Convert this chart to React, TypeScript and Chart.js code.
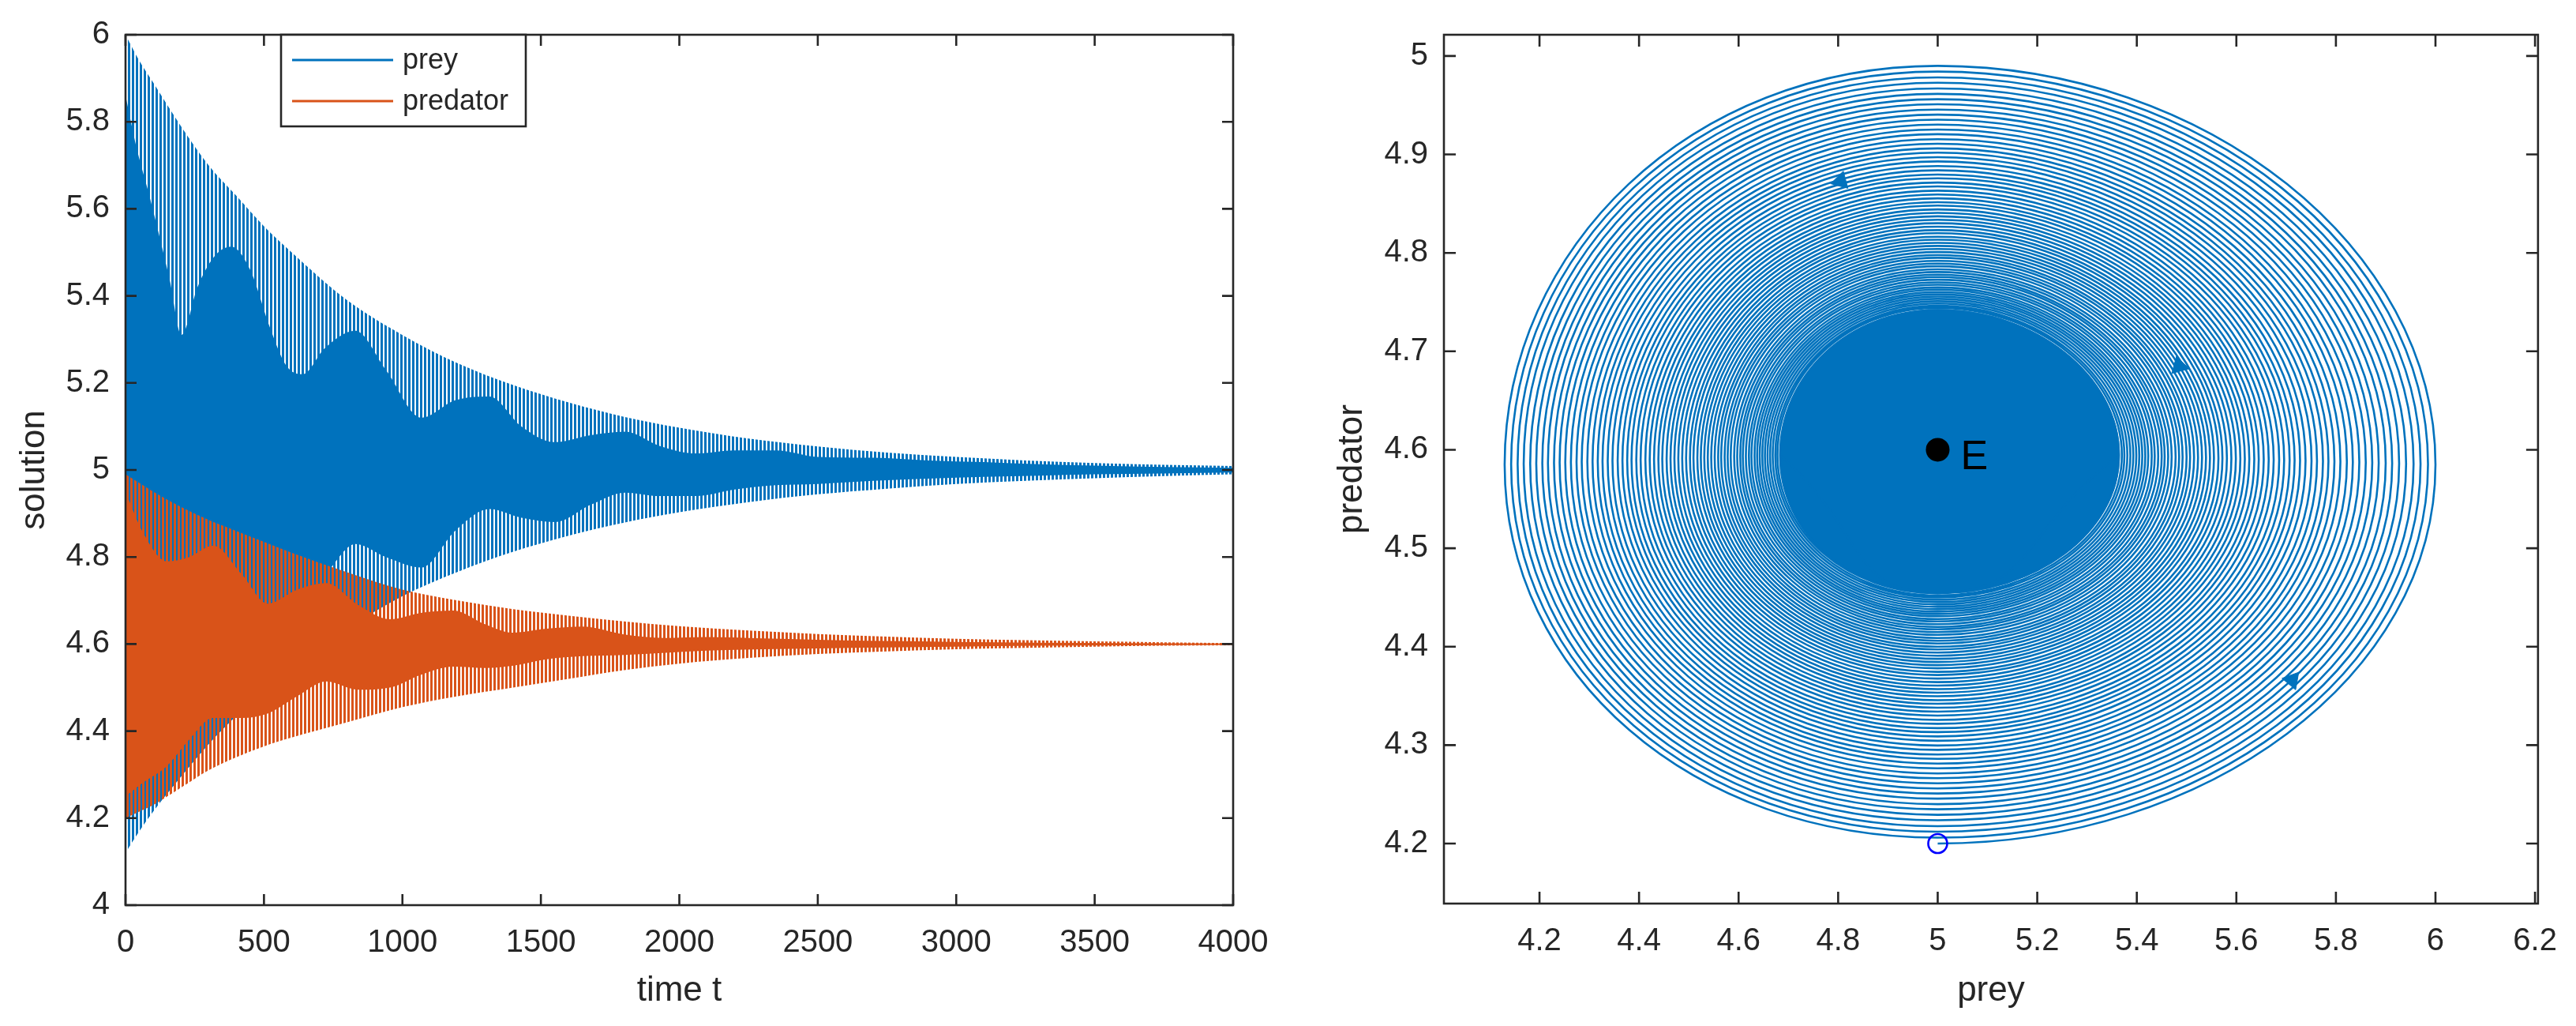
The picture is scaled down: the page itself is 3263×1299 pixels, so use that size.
import React, { useEffect, useRef } from 'react';
import { Chart, registerables } from 'chart.js';

Chart.register(...registerables);

const FONT = '"Liberation Sans", Arial, Helvetica, sans-serif';
const TEXT = '#262626';
const BLUE = '#0072BD';
const ORANGE = '#D95319';

// ---------- left panel: time series envelopes ----------
const outerT = [0, 50, 100, 200, 300, 400, 500, 600, 800, 1000, 1200, 1400, 1600, 1800, 2000, 2250, 2500, 2750, 3000, 3250, 3500, 3750, 4000];
const preyMax = [6.0, 5.94, 5.89, 5.79, 5.7, 5.63, 5.56, 5.5, 5.39, 5.31, 5.245, 5.195, 5.155, 5.122, 5.097, 5.072, 5.054, 5.04, 5.03, 5.022, 5.016, 5.012, 5.009];
const preyMin = [4.12, 4.17, 4.215, 4.295, 4.37, 4.435, 4.495, 4.545, 4.635, 4.71, 4.766, 4.812, 4.849, 4.879, 4.903, 4.926, 4.944, 4.957, 4.968, 4.975, 4.981, 4.986, 4.99];
const predMax = [4.99, 4.97, 4.95, 4.915, 4.885, 4.86, 4.835, 4.81, 4.765, 4.725, 4.7, 4.68, 4.665, 4.652, 4.641, 4.631, 4.623, 4.617, 4.612, 4.609, 4.606, 4.604, 4.602];
const predMin = [4.2, 4.215, 4.23, 4.27, 4.31, 4.34, 4.365, 4.385, 4.42, 4.455, 4.48, 4.5, 4.52, 4.54, 4.555, 4.568, 4.577, 4.583, 4.588, 4.591, 4.594, 4.596, 4.597];

const preyInnerT = [0, 40, 86, 160, 202, 260, 320, 382, 450, 520, 580, 640, 720, 830, 940, 1069, 1190, 1314, 1430, 1551, 1680, 1805, 1930, 2060, 2200, 2350, 2500, 2700, 2900, 3100, 3300, 3500, 3750, 4000];
const preyInnerHi = [5.86, 5.74, 5.63, 5.435, 5.31, 5.42, 5.49, 5.513, 5.46, 5.33, 5.24, 5.22, 5.28, 5.32, 5.23, 5.12, 5.16, 5.169, 5.1, 5.064, 5.08, 5.088, 5.055, 5.038, 5.045, 5.045, 5.03, 5.028, 5.022, 5.018, 5.013, 5.01, 5.007, 5.005];
const preyInnerLo = [4.4, 4.42, 4.45, 4.5, 4.53, 4.56, 4.58, 4.6, 4.64, 4.68, 4.7, 4.72, 4.76, 4.83, 4.8, 4.776, 4.86, 4.91, 4.89, 4.88, 4.92, 4.948, 4.94, 4.94, 4.955, 4.965, 4.968, 4.975, 4.98, 4.984, 4.987, 4.99, 4.992, 4.994];

const predInnerT = [0, 60, 150, 230, 316, 420, 513, 620, 725, 840, 955, 1070, 1183, 1300, 1397, 1520, 1650, 1800, 1950, 2100, 2300, 2500, 2750, 3000, 3300, 3600, 4000];
const predInnerHi = [4.95, 4.86, 4.79, 4.8, 4.826, 4.76, 4.693, 4.725, 4.74, 4.69, 4.657, 4.672, 4.677, 4.645, 4.626, 4.635, 4.64, 4.622, 4.614, 4.616, 4.613, 4.61, 4.607, 4.605, 4.603, 4.602, 4.601];
const predInnerLo = [4.25, 4.28, 4.32, 4.38, 4.43, 4.43, 4.44, 4.48, 4.514, 4.495, 4.5, 4.53, 4.548, 4.545, 4.55, 4.565, 4.572, 4.575, 4.58, 4.585, 4.588, 4.59, 4.592, 4.594, 4.596, 4.597, 4.598];

const timeTicks = [0, 500, 1000, 1500, 2000, 2500, 3000, 3500, 4000];
const solutionTicks = [4, 4.2, 4.4, 4.6, 4.8, 5, 5.2, 5.4, 5.6, 5.8, 6];
const legendNames = ['prey', 'predator'];
const legendColors = [BLUE, ORANGE];

// ---------- right panel: phase portrait ----------
const preyTicks = [4.2, 4.4, 4.6, 4.8, 5, 5.2, 5.4, 5.6, 5.8, 6, 6.2];
const predatorTicks = [4.2, 4.3, 4.4, 4.5, 4.6, 4.7, 4.8, 4.9, 5];
const outerRing = { right: 6.0, top: 4.99, left: 4.13, bottom: 4.2 };
const widestY = 4.585;
const ringScale = [
  1.0, 0.985, 0.97, 0.956, 0.941, 0.927, 0.913, 0.9, 0.886, 0.873,
  0.86, 0.847, 0.834, 0.822, 0.809, 0.797, 0.785, 0.774, 0.762, 0.751,
  0.739, 0.728, 0.717, 0.707, 0.696, 0.686, 0.675, 0.665, 0.655, 0.645,
  0.636, 0.626, 0.617, 0.608, 0.599, 0.59, 0.581, 0.572, 0.564, 0.555,
  0.547, 0.539, 0.531, 0.523, 0.515, 0.507, 0.5, 0.492, 0.485, 0.478,
  0.47, 0.463, 0.456, 0.45, 0.443, 0.436, 0.43, 0.423, 0.417, 0.411,
  0.405, 0.399, 0.393, 0.387, 0.381, 0.375, 0.37, 0.364,
];
const coreScale = 0.364;
const equilibrium = { x: 5, y: 4.6 };
const startPoint = { x: 5, y: 4.2 };
const arrowX = [4.805, 5.485, 5.712];
const arrowY = [4.873, 4.685, 4.366];
const arrowAngle = [255, -15, 40];

// ---------- helpers ----------
const pts = (t: number[], v: number[]) => t.map((x, i) => ({ x, y: v[i] }));

function ringPts(s: number) {
  const e = equilibrium;
  return {
    bottom: { x: e.x, y: e.y - (e.y - outerRing.bottom) * s },
    right: { x: e.x + (outerRing.right - e.x) * s, y: e.y + (widestY - e.y) * s },
    top: { x: e.x, y: e.y + (outerRing.top - e.y) * s },
    left: { x: e.x - (e.x - outerRing.left) * s, y: e.y + (widestY - e.y) * s },
  };
}

// the first point is a hidden lead-in (outer ring's left extreme) so the curve leaves the start point smoothly
const spiral: { x: number; y: number }[] = [ringPts(ringScale[0]).left];
ringScale.forEach((s) => {
  const r = ringPts(s);
  spiral.push(r.bottom, r.right, r.top, r.left);
});
const coreR = ringPts(coreScale);
const core = [coreR.left, coreR.bottom, coreR.right, coreR.top, coreR.left, coreR.bottom, coreR.right];

function stripe(ctx: CanvasRenderingContext2D, color: string, offset: number) {
  const c = document.createElement('canvas');
  c.width = 5;
  c.height = 4;
  const g = c.getContext('2d')!;
  g.fillStyle = color;
  for (let i = 0; i < 3; i++) g.fillRect((offset + i) % 5, 0, 1, 4);
  return ctx.createPattern(c, 'repeat')!;
}

const fmt = (v: any) => String(Number(Number(v).toFixed(2)));

function boxTicks(len: number) {
  return {
    id: 'boxTicks',
    afterDraw(chart: any) {
      const { ctx, chartArea: a, scales } = chart;
      const xs = scales.x;
      const ys = scales.y;
      ctx.save();
      ctx.strokeStyle = TEXT;
      ctx.lineWidth = 2.6;
      ctx.beginPath();
      xs.ticks.forEach((t: any) => {
        const p = xs.getPixelForValue(t.value);
        ctx.moveTo(p, a.bottom);
        ctx.lineTo(p, a.bottom - len);
        ctx.moveTo(p, a.top);
        ctx.lineTo(p, a.top + len);
      });
      ys.ticks.forEach((t: any) => {
        const p = ys.getPixelForValue(t.value);
        ctx.moveTo(a.left, p);
        ctx.lineTo(a.left + len, p);
        ctx.moveTo(a.right, p);
        ctx.lineTo(a.right - len, p);
      });
      ctx.stroke();
      ctx.strokeRect(a.left, a.top, a.right - a.left, a.bottom - a.top);
      ctx.restore();
    },
  };
}

const legendPlugin = {
  id: 'mlLegend',
  afterDraw(chart: any) {
    const { ctx, chartArea: a } = chart;
    const x0 = a.left + 197;
    const y0 = a.top;
    const w = 310;
    const h = 116;
    ctx.save();
    ctx.fillStyle = '#ffffff';
    ctx.fillRect(x0, y0, w, h);
    ctx.strokeStyle = TEXT;
    ctx.lineWidth = 2.6;
    ctx.strokeRect(x0, y0, w, h);
    legendNames.forEach((name, i) => {
      const y = y0 + 32 + i * 52;
      ctx.strokeStyle = legendColors[i];
      ctx.lineWidth = 3;
      ctx.beginPath();
      ctx.moveTo(x0 + 14, y);
      ctx.lineTo(x0 + 142, y);
      ctx.stroke();
      ctx.fillStyle = TEXT;
      ctx.font = `36px ${FONT}`;
      ctx.textBaseline = 'middle';
      ctx.textAlign = 'left';
      ctx.fillText(name, x0 + 154, y + 1);
    });
    ctx.restore();
  },
};

const eLabel = {
  id: 'eLabel',
  afterDatasetsDraw(chart: any) {
    const { ctx, scales } = chart;
    const px = scales.x.getPixelForValue(equilibrium.x);
    const py = scales.y.getPixelForValue(equilibrium.y);
    ctx.save();
    ctx.fillStyle = '#000000';
    ctx.font = `52px ${FONT}`;
    ctx.textBaseline = 'alphabetic';
    ctx.textAlign = 'left';
    ctx.fillText('E', px + 29, py + 25);
    ctx.restore();
  },
};

const tickFont = { family: FONT, size: 40 };
const titleFont = { family: FONT, size: 44 };
const hiddenGrid = { display: true, drawOnChartArea: false, drawTicks: false, color: 'rgba(0,0,0,0)' };

function band(data: any, order: number, fill: any, bg: any) {
  return {
    data,
    order,
    fill,
    backgroundColor: bg,
    borderColor: 'rgba(0,0,0,0)',
    borderWidth: 1,
    pointRadius: 0,
    cubicInterpolationMode: 'monotone',
  };
}

export default function App() {
  const leftRef = useRef<HTMLCanvasElement>(null);
  const rightRef = useRef<HTMLCanvasElement>(null);

  useEffect(() => {
    const lc = leftRef.current!;
    const rc = rightRef.current!;
    const lctx = lc.getContext('2d')!;
    const bluePat = stripe(lctx, BLUE, 2);
    const orangePat = stripe(lctx, ORANGE, 0);

    const left = new Chart(lc, {
      type: 'line',
      data: {
        datasets: [
          band(pts(outerT, preyMax), 80, false, 'rgba(0,0,0,0)'),
          band(pts(outerT, preyMin), 70, '-1', bluePat),
          band(pts(preyInnerT, preyInnerHi), 60, false, 'rgba(0,0,0,0)'),
          band(pts(preyInnerT, preyInnerLo), 50, '-1', BLUE),
          band(pts(outerT, predMax), 40, false, 'rgba(0,0,0,0)'),
          band(pts(outerT, predMin), 30, '-1', orangePat),
          band(pts(predInnerT, predInnerHi), 20, false, 'rgba(0,0,0,0)'),
          band(pts(predInnerT, predInnerLo), 10, '-1', ORANGE),
        ] as any,
      },
      options: {
        responsive: false,
        animation: false,
        devicePixelRatio: 1,
        layout: { padding: { top: 41, right: 98, left: 0, bottom: 0 } },
        plugins: { legend: { display: false }, tooltip: { enabled: false } },
        scales: {
          x: {
            type: 'linear',
            min: 0,
            max: 4000,
            afterBuildTicks: (s: any) => { s.ticks = timeTicks.map((value) => ({ value })); },
            afterFit: (s: any) => { s.height = 153; },
            grid: hiddenGrid,
            border: { display: false },
            ticks: { font: tickFont, color: TEXT, padding: 24, maxRotation: 0, autoSkip: false, callback: fmt },
            title: { display: true, text: 'time t', font: titleFont, color: TEXT, padding: { top: 0, bottom: 18 } },
          },
          y: {
            type: 'linear',
            min: 4,
            max: 6,
            afterBuildTicks: (s: any) => { s.ticks = solutionTicks.map((value) => ({ value })); },
            afterFit: (s: any) => { s.width = 159; },
            grid: hiddenGrid,
            border: { display: false },
            ticks: { font: tickFont, color: TEXT, padding: 20, autoSkip: false, callback: fmt },
            title: { display: true, text: 'solution', font: titleFont, color: TEXT, padding: { top: 17, bottom: 0 } },
          },
        },
      } as any,
      plugins: [boxTicks(14), legendPlugin],
    });

    const right = new Chart(rc, {
      type: 'line',
      data: {
        datasets: [
          {
            data: spiral,
            order: 50,
            borderColor: BLUE,
            borderWidth: 2.6,
            tension: 0.5523,
            pointRadius: 0,
            fill: false,
            segment: {
              borderColor: (c: any) => (c.p0DataIndex === 0 ? 'rgba(0,0,0,0)' : undefined),
            },
          },
          {
            data: core,
            order: 40,
            borderColor: BLUE,
            backgroundColor: BLUE,
            borderWidth: 2.6,
            tension: 0.5523,
            pointRadius: 0,
            fill: 'shape',
          },
          {
            data: pts(arrowX, arrowY),
            order: 30,
            showLine: false,
            pointStyle: 'triangle',
            pointRadius: 13,
            pointRotation: arrowAngle,
            backgroundColor: BLUE,
            borderColor: BLUE,
            borderWidth: 1,
          },
          {
            data: [equilibrium],
            order: 20,
            showLine: false,
            pointRadius: 15,
            backgroundColor: '#000000',
            borderColor: '#000000',
            borderWidth: 0,
          },
          {
            data: [startPoint],
            order: 10,
            showLine: false,
            pointRadius: 12,
            backgroundColor: 'rgba(0,0,0,0)',
            borderColor: '#0000FF',
            borderWidth: 2.6,
          },
        ] as any,
      },
      options: {
        responsive: false,
        animation: false,
        devicePixelRatio: 1,
        layout: { padding: { top: 41, right: 39, left: 0, bottom: 0 } },
        plugins: { legend: { display: false }, tooltip: { enabled: false } },
        scales: {
          x: {
            type: 'linear',
            min: 4.008,
            max: 6.206,
            afterBuildTicks: (s: any) => { s.ticks = preyTicks.map((value) => ({ value })); },
            afterFit: (s: any) => { s.height = 155; },
            grid: hiddenGrid,
            border: { display: false },
            ticks: { font: tickFont, color: TEXT, padding: 24, maxRotation: 0, autoSkip: false, callback: fmt },
            title: { display: true, text: 'prey', font: titleFont, color: TEXT, padding: { top: 0, bottom: 18 } },
          },
          y: {
            type: 'linear',
            min: 4.139,
            max: 5.0216,
            afterBuildTicks: (s: any) => { s.ticks = predatorTicks.map((value) => ({ value })); },
            afterFit: (s: any) => { s.width = 169; },
            grid: hiddenGrid,
            border: { display: false },
            ticks: { font: tickFont, color: TEXT, padding: 20, autoSkip: false, callback: fmt },
            title: { display: true, text: 'predator', font: titleFont, color: TEXT, padding: { top: 26, bottom: 0 } },
          },
        },
      } as any,
      plugins: [boxTicks(15), eLabel],
    });

    return () => {
      left.destroy();
      right.destroy();
    };
  }, []);

  return (
    <div style={{ position: 'absolute', left: 0, top: 0, width: 3263, height: 1299, background: '#ffffff', overflow: 'hidden' }}>
      <canvas ref={leftRef} width={1660} height={1299} style={{ position: 'absolute', left: 0, top: 0, width: 1660, height: 1299 }} />
      <canvas ref={rightRef} width={1603} height={1299} style={{ position: 'absolute', left: 1660, top: 0, width: 1603, height: 1299 }} />
    </div>
  );
}
